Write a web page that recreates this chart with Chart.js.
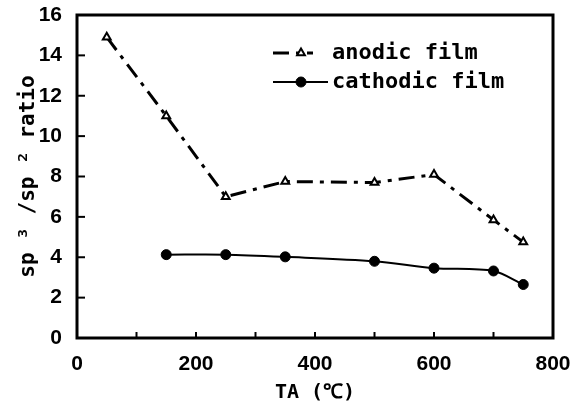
<!DOCTYPE html>
<html lang="en">
<head>
  <meta charset="UTF-8">
  <title>sp3/sp2 ratio vs TA</title>
  <script src="https://cdn.jsdelivr.net/npm/chart.js"></script>
  <style>
    html, body { margin: 0; padding: 0; background: #fff; }
    #wrap { width: 577px; height: 405px; }
  </style>
</head>
<body>
  <div id="wrap"><canvas id="ratioChart" width="577" height="405"></canvas></div>
  <script>
    // values
    const anodicTemps = [50, 150, 250, 350, 500, 600, 700, 750];
    const anodicRatio = [14.9, 11.0, 7.0, 7.75, 7.7, 8.1, 5.85, 4.75];
    const cathodicTemps = [150, 250, 350, 500, 600, 700, 750];
    const cathodicRatio = [4.13, 4.13, 4.02, 3.8, 3.46, 3.32, 2.65];
    const xTickLabels = [0, 200, 400, 600, 800];

    const numFont = "'Liberation Sans Narrow', 'Liberation Sans', Arial, sans-serif";
    const monoFont = "'DejaVu Sans Mono', monospace";

    const toPoints = (xs, ys) => xs.map((x, i) => ({ x: x, y: ys[i] }));

    // frame, inward ticks and the legend box
    const decorations = {
      id: 'decorations',
      afterDatasetsDraw(chart) {
        const ctx = chart.ctx;
        const a = chart.chartArea;
        const xs = chart.scales.x, ys = chart.scales.y;
        ctx.save();
        ctx.strokeStyle = '#000';
        ctx.lineWidth = 2;
        xs.ticks.forEach(t => {
          const px = xs.getPixelForValue(t.value);
          if (px <= a.left + 1 || px >= a.right - 1) return;
          ctx.beginPath(); ctx.moveTo(px, a.bottom); ctx.lineTo(px, a.bottom - 6); ctx.stroke();
        });
        ys.ticks.forEach(t => {
          const py = ys.getPixelForValue(t.value);
          if (py <= a.top + 1 || py >= a.bottom - 1) return;
          ctx.beginPath(); ctx.moveTo(a.left, py); ctx.lineTo(a.left + 8, py); ctx.stroke();
        });
        ctx.lineWidth = 3;
        ctx.strokeRect(a.left, a.top, a.right - a.left, a.bottom - a.top);

        // legend
        const rows = [
          { ds: chart.data.datasets[0], y: 53, x1: 273, x2: 313 },
          { ds: chart.data.datasets[1], y: 82, x1: 273, x2: 328 }
        ];
        rows.forEach(r => {
          ctx.save();
          ctx.lineWidth = r.ds.borderWidth;
          ctx.setLineDash(r.ds.borderDash || []);
          ctx.beginPath(); ctx.moveTo(r.x1, r.y); ctx.lineTo(r.x2, r.y); ctx.stroke();
          ctx.restore();
          ctx.fillStyle = r.ds.pointBackgroundColor;
          ctx.lineWidth = r.ds.pointBorderWidth;
          Chart.helpers.drawPoint(ctx, {
            pointStyle: r.ds.pointStyle,
            radius: r.ds.pointRadius,
            borderWidth: r.ds.pointBorderWidth,
            rotation: 0
          }, 301, r.y);
          ctx.fillStyle = '#000';
          ctx.font = 'bold 22px ' + monoFont;
          ctx.textBaseline = 'middle';
          ctx.textAlign = 'left';
          ctx.fillText(r.ds.label, 332, r.y);
        });
        ctx.restore();
      }
    };

    new Chart(document.getElementById('ratioChart'), {
      type: 'line',
      data: {
        datasets: [
          {
            label: 'anodic film',
            data: toPoints(anodicTemps, anodicRatio),
            borderColor: '#000',
            borderWidth: 3,
            borderDash: [16, 7, 4, 7],
            pointStyle: 'triangle',
            pointRadius: 4.5,
            pointBorderWidth: 2,
            pointBackgroundColor: '#fff',
            pointBorderColor: '#000',
            tension: 0
          },
          {
            label: 'cathodic film',
            data: toPoints(cathodicTemps, cathodicRatio),
            borderColor: '#000',
            borderWidth: 2,
            pointStyle: 'circle',
            pointRadius: 5,
            pointBorderWidth: 1,
            pointBackgroundColor: '#000',
            pointBorderColor: '#000',
            tension: 0.3
          }
        ]
      },
      options: {
        responsive: false,
        animation: false,
        layout: { padding: { top: 15, right: 24, left: 0, bottom: 0 } },
        plugins: { legend: { display: false }, tooltip: { enabled: false } },
        scales: {
          x: {
            type: 'linear',
            min: 0, max: 800,
            grid: { display: false, drawTicks: false },
            border: { display: false },
            afterFit: s => { s.height = 67; s.paddingLeft = 0; s.paddingRight = 0; },
            ticks: {
              stepSize: 100,
              autoSkip: false,
              maxRotation: 0,
              padding: 14,
              color: '#000',
              font: { family: numFont, size: 21, weight: 'bold' },
              callback: v => xTickLabels.includes(v) ? String(v) : ''
            },
            title: {
              display: true,
              text: 'TA (℃)',
              color: '#000',
              padding: { top: 0, bottom: 0 },
              font: { family: monoFont, size: 20, weight: 'bold' }
            }
          },
          y: {
            min: 0, max: 16,
            grid: { display: false, drawTicks: false },
            border: { display: false },
            afterFit: s => { s.width = 77; s.paddingTop = 0; s.paddingBottom = 0; },
            ticks: {
              stepSize: 2,
              padding: 15,
              color: '#000',
              font: { family: numFont, size: 21, weight: 'bold' }
            },
            title: {
              display: true,
              text: 'sp ³ /sp ² ratio',
              color: '#000',
              padding: { top: 16, bottom: 0 },
              font: { family: monoFont, size: 21, weight: 'bold' }
            }
          }
        }
      },
      plugins: [decorations]
    });
  </script>
</body>
</html>
